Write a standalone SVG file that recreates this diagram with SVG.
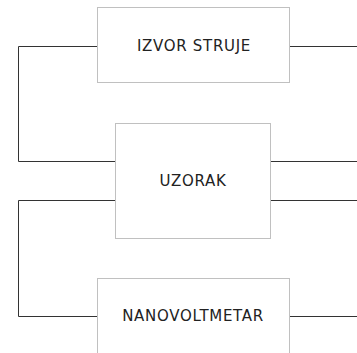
<svg xmlns="http://www.w3.org/2000/svg" width="357" height="353" viewBox="0 0 357 353">
<style>
.box{fill:#fff;stroke:#c0c0c0;stroke-width:1}
.lbl{font-family:"DejaVu Sans",Verdana,sans-serif;font-size:15px;fill:#222;text-anchor:middle;letter-spacing:0.7px}
.wire{fill:none;stroke:#333;stroke-width:1}
</style>
<rect width="357" height="353" fill="#fff"/>
<g id="connectors">
<path class="wire" d="M97.5 46.5H18.5V161.5H115.5"/>
<path class="wire" d="M289.5 46.5H357"/>
<path class="wire" d="M115.5 200.5H18.5V316.5H97.5"/>
<path class="wire" d="M270.5 161.5H357"/>
<path class="wire" d="M270.5 200.5H357"/>
<path class="wire" d="M289.5 316.5H357"/>
</g>
<g id="izvor">
<rect class="box" x="97.5" y="7.5" width="192" height="75"/>
<text class="lbl" x="194" y="51">IZVOR STRUJE</text>
</g>
<g id="uzorak">
<rect class="box" x="115.5" y="123.5" width="155" height="115"/>
<text class="lbl" x="193" y="186">UZORAK</text>
</g>
<g id="nanovoltmetar">
<rect class="box" x="97.5" y="278.5" width="192" height="80"/>
<text class="lbl" x="193" y="321">NANOVOLTMETAR</text>
</g>
</svg>
